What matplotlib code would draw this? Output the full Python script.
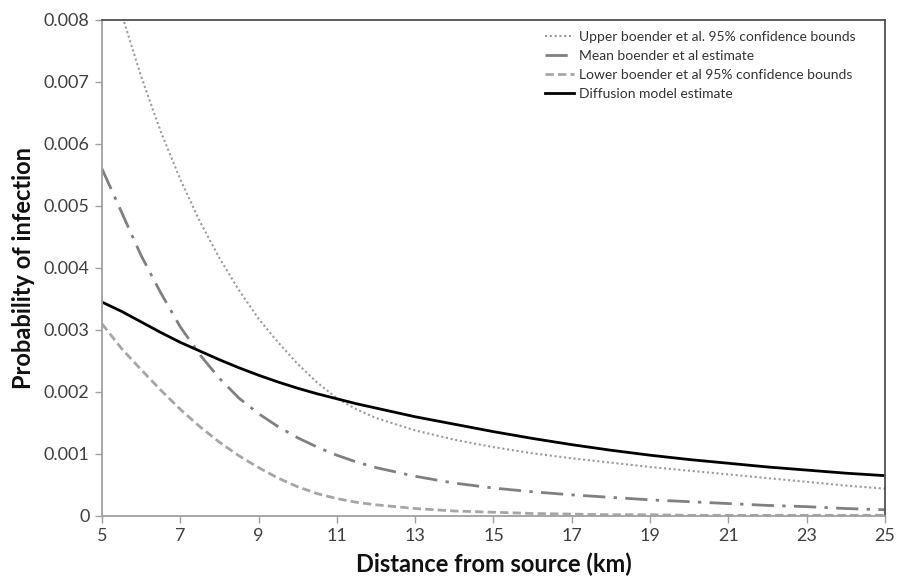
import matplotlib
matplotlib.use("Agg")
import matplotlib.pyplot as plt
from matplotlib.ticker import FixedLocator, FuncFormatter

distance_km = [5, 5.5, 6, 6.5, 7, 7.5, 8, 8.5, 9, 9.5, 10, 10.5, 11, 11.5,
               12, 13, 14, 15, 16, 17, 18, 19, 20, 21, 22, 23, 24, 25]

upper_boender = [0.0092, 0.0081, 0.00709, 0.0062, 0.00543, 0.00475, 0.00416, 0.00364, 0.00318, 0.0028,
                 0.00245, 0.00215, 0.0019, 0.00172,
                 0.00158, 0.00138, 0.00123, 0.00111, 0.00101, 0.00093, 0.00086, 0.00079, 0.00073,
                 0.00067, 0.00061, 0.00055, 0.00049, 0.00044]

mean_boender = [0.0056, 0.0049, 0.0042, 0.0036, 0.00305, 0.0026, 0.00222, 0.0019, 0.00165, 0.00144,
                0.00126, 0.00111, 0.00098, 0.00087,
                0.00078, 0.00064, 0.00053, 0.00045, 0.00039, 0.00034, 0.0003, 0.00026, 0.00023,
                0.0002, 0.00017, 0.00015, 0.00012, 0.0001]

lower_boender = [0.0031, 0.0027, 0.00236, 0.00203, 0.00172, 0.00144, 0.00119, 0.00097, 0.00078, 0.00061,
                 0.00047, 0.00036, 0.00028, 0.00022,
                 0.00018, 0.00012, 0.00008, 0.00006, 0.00004, 0.00003, 0.00002, 0.00002, 0.00001,
                 0.00001, 0.00001, 0.00001, 0.00001, 0.00001]

diffusion_model = [0.00345, 0.0033, 0.00313, 0.00296, 0.0028, 0.00266, 0.00252, 0.00239, 0.00227, 0.00216,
                   0.00206, 0.00197, 0.00189, 0.00181,
                   0.00174, 0.0016, 0.00148, 0.00136, 0.00125, 0.00115, 0.00106, 0.00098, 0.00091,
                   0.00085, 0.00079, 0.00074, 0.00069, 0.00065]

labels = ["Upper boender et al. 95% confidence bounds",
          "Mean boender et al estimate",
          "Lower boender et al 95% confidence bounds",
          "Diffusion model estimate"]

x_ticks = [5, 7, 9, 11, 13, 15, 17, 19, 21, 23, 25]
y_ticks = [0, 0.001, 0.002, 0.003, 0.004, 0.005, 0.006, 0.007, 0.008]

plt.rcParams['font.family'] = ['Lato', 'DejaVu Sans']

fig = plt.figure(figsize=(8.97, 5.83), dpi=100)
ax = fig.add_axes([0.1137, 0.115, 0.8729, 0.8507])

ax.plot(distance_km, upper_boender, color='#9a9a9a', lw=1.5, linestyle=(0, (1, 1.3)), label=labels[0])
ax.plot(distance_km, mean_boender, color='#808080', lw=2.0, linestyle=(0, (8, 3, 1.2, 3)), label=labels[1])
ax.plot(distance_km, lower_boender, color='#a6a6a6', lw=2.0, linestyle=(0, (3, 1.5)), label=labels[2])
ax.plot(distance_km, diffusion_model, color='black', lw=2.0, label=labels[3])

ax.set_xlim(5, 25)
ax.set_ylim(0, 0.008)
ax.xaxis.set_major_locator(FixedLocator(x_ticks))
ax.yaxis.set_major_locator(FixedLocator(y_ticks))
ax.yaxis.set_major_formatter(FuncFormatter(lambda v, p: "0" if v == 0 else f"{v:.3f}"))
ax.xaxis.set_major_formatter(FuncFormatter(lambda v, p: f"{int(v)}"))

for s in ['left', 'bottom']:
    ax.spines[s].set_color('#a0a0a0')
    ax.spines[s].set_linewidth(1.3)
for s in ['top', 'right']:
    ax.spines[s].set_color('#505050')
    ax.spines[s].set_linewidth(1.3)

ax.tick_params(axis='both', direction='out', length=5, width=1, color='#a0a0a0',
               labelsize=13, labelcolor='#404040', pad=4)

ax.set_xlabel("Distance from source (km)", fontsize=17, fontweight='bold', color='#111111', labelpad=6)
ax.set_ylabel("Probability of infection", fontsize=17, fontweight='bold', color='#111111', labelpad=6)

leg = ax.legend(loc='upper right', bbox_to_anchor=(0.975, 0.997), frameon=False, fontsize=10,
                handlelength=2.1, handletextpad=0.35, labelspacing=0.5, borderaxespad=0.3)
for t in leg.get_texts():
    t.set_color('#333333')

fig.savefig("out.png", dpi=100)
